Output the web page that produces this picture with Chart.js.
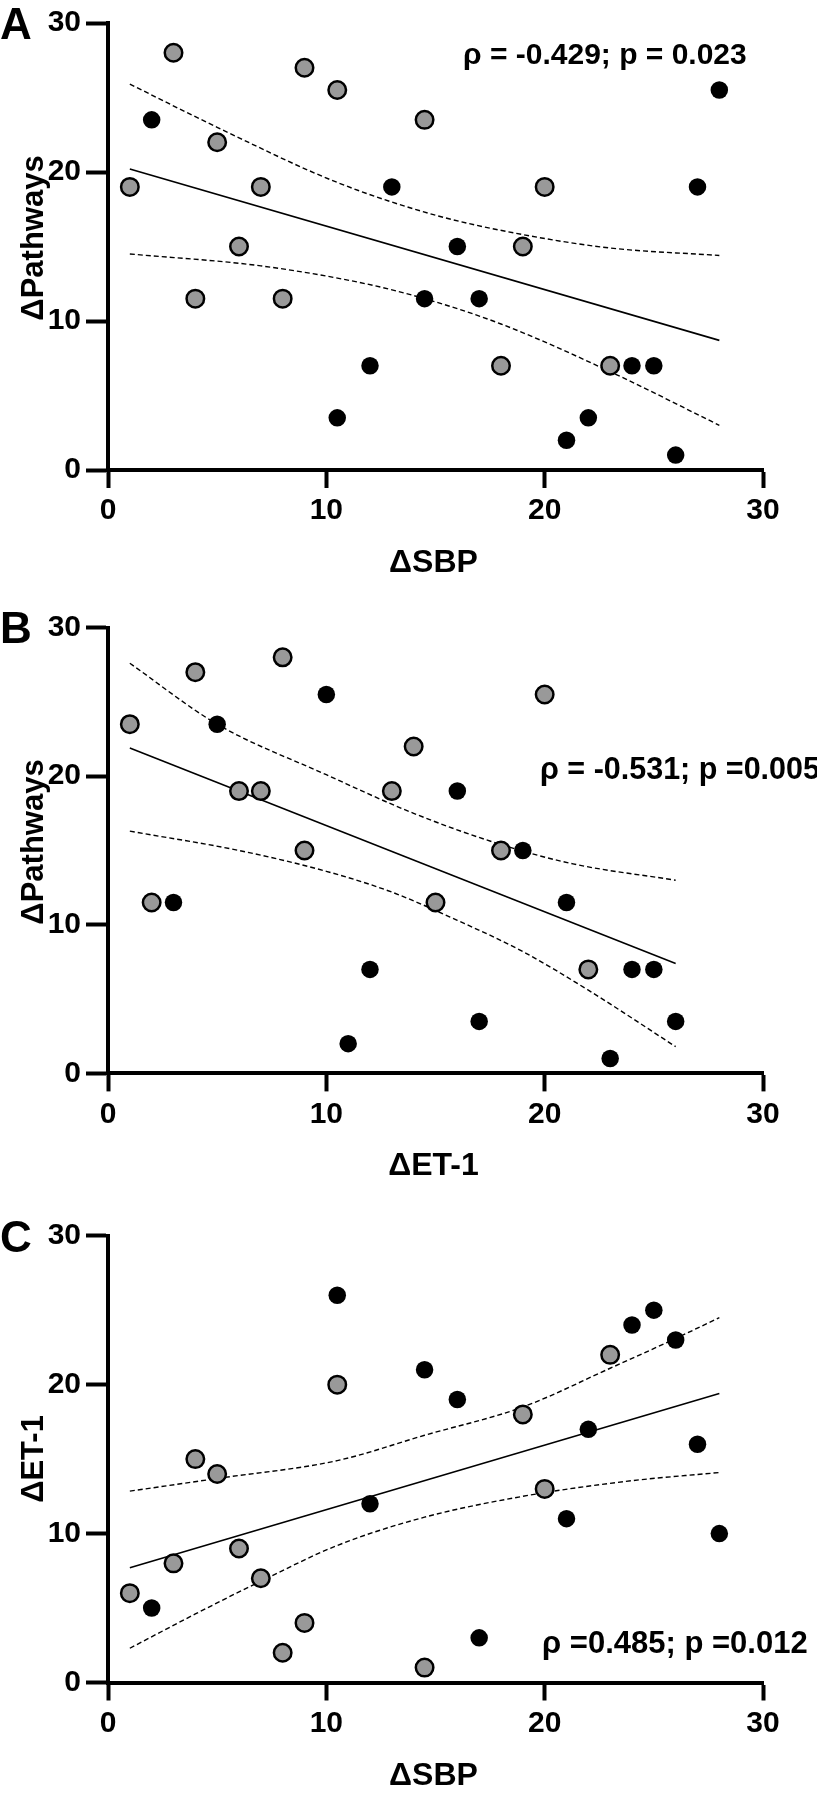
<!DOCTYPE html>
<html>
<head>
<meta charset="utf-8">
<script src="https://cdn.jsdelivr.net/npm/chart.js@4.4.1/dist/chart.umd.min.js"></script>
<style>
  body { margin: 0; background: #fff; }
  .panel { position: absolute; left: 0; }
</style>
</head>
<body>
<canvas id="chartA" class="panel" width="817" height="600" style="top:0"></canvas>
<canvas id="chartB" class="panel" width="817" height="600" style="top:600px"></canvas>
<canvas id="chartC" class="panel" width="817" height="597" style="top:1200px"></canvas>
<script>
const xTicks = [0, 10, 20, 30];
const yTicks = [0, 10, 20, 30];

// A: ΔSBP vs ΔPathways
const aGrayX = [1, 3, 4, 5, 6, 7, 8, 9, 10.5, 14.5, 18, 19, 20, 23];
const aGrayY = [19, 28, 11.5, 22, 15, 19, 11.5, 27, 25.5, 23.5, 7, 15, 19, 7];
const aBlackX = [2, 10.5, 12, 13, 14.5, 16, 17, 21, 22, 24, 25, 26, 27, 28];
const aBlackY = [23.5, 3.5, 7, 19, 11.5, 15, 11.5, 2, 3.5, 7, 7, 1, 19, 25.5];
const aFitX = [1, 28];
const aFitY = [20.2, 8.7];
const aUpperX = [1, 5, 10.5, 15, 19, 23, 28];
const aUpperY = [25.9, 23.0, 19.3, 17.1, 15.8, 14.9, 14.4];
const aLowerX = [1, 7, 11.8, 14.5, 18, 23, 28];
const aLowerY = [14.5, 13.7, 12.5, 11.5, 9.8, 6.6, 3.0];

// B: ΔET-1 vs ΔPathways
const bGrayX = [1, 2, 4, 6, 7, 8, 9, 13, 14, 15, 18, 20, 22];
const bGrayY = [23.5, 11.5, 27, 19, 19, 28, 15, 19, 22, 11.5, 15, 25.5, 7];
const bBlackX = [3, 5, 10, 11, 12, 16, 17, 19, 21, 23, 24, 25, 26];
const bBlackY = [11.5, 23.5, 25.5, 2, 7, 19, 3.5, 15, 11.5, 1, 7, 7, 3.5];
const bFitX = [1, 26];
const bFitY = [21.9, 7.4];
const bUpperX = [1, 5, 10, 14, 18, 21.3, 26];
const bUpperY = [27.6, 23.5, 20.1, 17.5, 15.4, 14.1, 13.0];
const bLowerX = [1, 6, 10, 13, 16, 19, 22, 26];
const bLowerY = [16.3, 15.0, 13.6, 12.2, 10.3, 8.2, 5.6, 1.8];

// C: ΔSBP vs ΔET-1
const cGrayX = [1, 3, 4, 5, 6, 7, 8, 9, 10.5, 14.5, 19, 20, 23];
const cGrayY = [6, 8, 15, 14, 9, 7, 2, 4, 20, 1, 18, 13, 22];
const cBlackX = [2, 10.5, 12, 14.5, 16, 17, 21, 22, 24, 25, 26, 27, 28];
const cBlackY = [5, 26, 12, 21, 19, 3, 11, 17, 24, 25, 23, 16, 10];
const cFitX = [1, 28];
const cFitY = [7.7, 19.4];
const cUpperX = [1, 5, 10.5, 14.5, 19, 23, 26, 28];
const cUpperY = [12.85, 13.7, 14.9, 16.6, 18.5, 21.1, 23.1, 24.5];
const cLowerX = [1, 4, 7, 10.5, 14.5, 19, 23.7, 28];
const cLowerY = [2.3, 4.6, 6.8, 9.2, 11.1, 12.5, 13.5, 14.1];

const FONT = '"Liberation Sans", Arial, Helvetica, sans-serif';
const pts = (xs, ys) => xs.map((x, i) => ({ x: x, y: ys[i] }));

// letter, axis titles and the rho/p note
const panelLabels = {
  id: 'panelLabels',
  afterDraw(chart, args, o) {
    const ctx = chart.ctx;
    const area = chart.chartArea;
    ctx.save();
    ctx.fillStyle = '#000';
    ctx.textBaseline = 'alphabetic';
    ctx.textAlign = 'left';
    ctx.font = 'bold 44px ' + FONT;
    ctx.fillText(o.letter, 0, o.letterY);
    ctx.font = 'bold ' + o.noteSize + 'px ' + FONT;
    ctx.fillText(o.note, o.noteX, o.noteY);
    ctx.textAlign = 'center';
    ctx.font = 'bold 32px ' + FONT;
    ctx.fillText(o.xTitle, (area.left + area.right) / 2 - 2, area.bottom + 102);
    ctx.translate(43, o.yTitleY);
    ctx.rotate(-Math.PI / 2);
    ctx.font = 'bold 31px ' + FONT;
    ctx.fillText(o.yTitle, 0, 0);
    ctx.restore();
  }
};

function axis(ticks, tickLength, padding, fit) {
  return {
    type: 'linear',
    min: ticks[0],
    max: ticks[ticks.length - 1],
    afterBuildTicks: s => { s.ticks = ticks.map(v => ({ value: v })); },
    afterFit: fit,
    grid: { drawOnChartArea: false, drawTicks: true, tickLength: tickLength, tickWidth: 4, tickColor: '#000' },
    border: { display: true, width: 4, color: '#000' },
    ticks: { color: '#000', padding: padding, maxRotation: 0, font: { family: FONT, size: 30, weight: 'bold' } }
  };
}

function drawPanel(id, top, bottom, d, labels) {
  const canvas = document.getElementById(id);
  const xAxisHeight = canvas.height - bottom;
  new Chart(canvas, {
    type: 'scatter',
    data: {
      datasets: [
        { data: pts(d[0], d[1]), backgroundColor: '#999999', borderColor: '#000', borderWidth: 2.5, pointRadius: 8.75, pointHoverRadius: 8.75 },
        { data: pts(d[2], d[3]), backgroundColor: '#000', borderColor: '#000', borderWidth: 0, pointRadius: 8.75, pointHoverRadius: 8.75 },
        { data: pts(d[4], d[5]), showLine: true, borderColor: '#000', borderWidth: 1.6, pointRadius: 0 },
        { data: pts(d[6], d[7]), showLine: true, borderColor: '#000', borderWidth: 1.4, borderDash: [5, 3], pointRadius: 0, cubicInterpolationMode: 'monotone' },
        { data: pts(d[8], d[9]), showLine: true, borderColor: '#000', borderWidth: 1.4, borderDash: [5, 3], pointRadius: 0, cubicInterpolationMode: 'monotone' }
      ]
    },
    options: {
      responsive: false,
      animation: false,
      devicePixelRatio: 1,
      events: [],
      layout: { padding: { top: top, right: 54, left: 0, bottom: 0 } },
      plugins: { legend: { display: false }, tooltip: { enabled: false }, panelLabels: labels },
      scales: {
        x: axis(xTicks, 18, 5, s => { s.height = xAxisHeight; }),
        y: axis(yTicks, 22, 5, s => { s.width = 108; })
      }
    },
    plugins: [panelLabels]
  });
}

drawPanel('chartA', 22.6, 470,
  [aGrayX, aGrayY, aBlackX, aBlackY, aFitX, aFitY, aUpperX, aUpperY, aLowerX, aLowerY],
  { letter: 'A', letterY: 39, xTitle: 'ΔSBP', yTitle: 'ΔPathways', yTitleY: 238,
    note: 'ρ = -0.429; p = 0.023', noteX: 463, noteY: 64, noteSize: 30 });

drawPanel('chartB', 27.6, 473.4,
  [bGrayX, bGrayY, bBlackX, bBlackY, bFitX, bFitY, bUpperX, bUpperY, bLowerX, bLowerY],
  { letter: 'B', letterY: 43, xTitle: 'ΔET-1', yTitle: 'ΔPathways', yTitleY: 242,
    note: 'ρ = -0.531; p =0.005', noteX: 540, noteY: 179, noteSize: 30.5 });

drawPanel('chartC', 35.7, 482.5,
  [cGrayX, cGrayY, cBlackX, cBlackY, cFitX, cFitY, cUpperX, cUpperY, cLowerX, cLowerY],
  { letter: 'C', letterY: 52, xTitle: 'ΔSBP', yTitle: 'ΔET-1', yTitleY: 259,
    note: 'ρ =0.485; p =0.012', noteX: 542, noteY: 453, noteSize: 31 });
</script>
</body>
</html>
